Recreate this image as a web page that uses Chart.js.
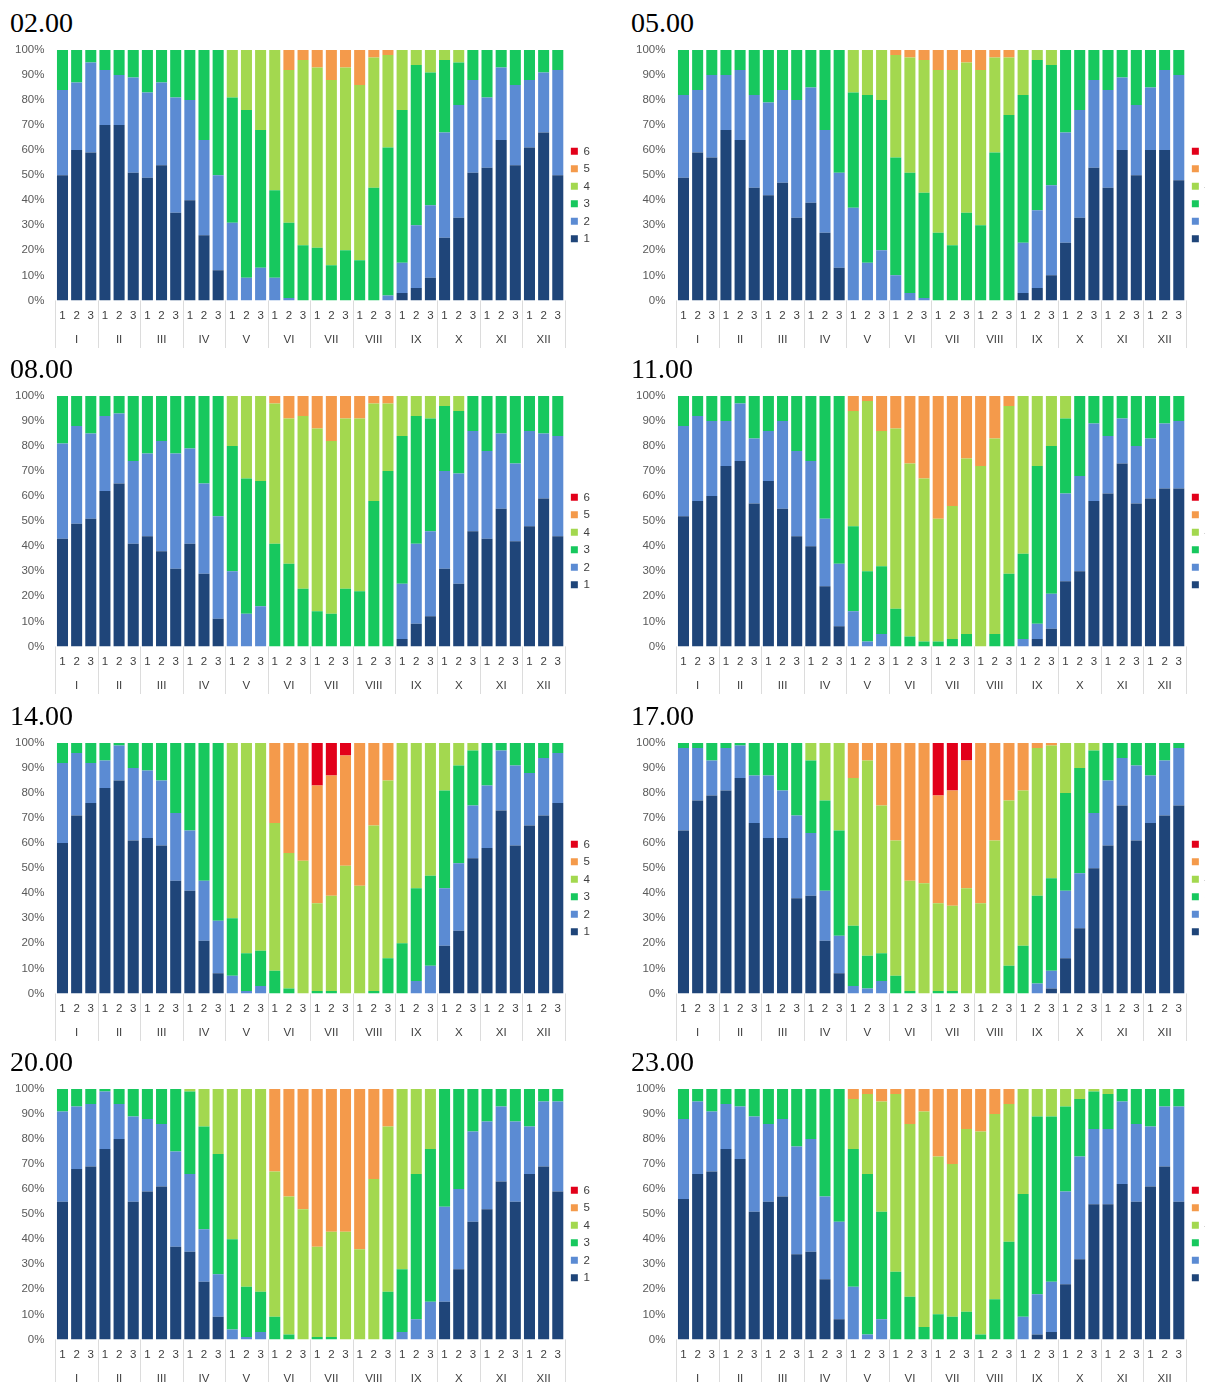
<!DOCTYPE html>
<html>
<head>
<meta charset="utf-8">
<script src="https://cdn.jsdelivr.net/npm/chart.js@4.4.1/dist/chart.umd.min.js"></script>
<style>
  html, body { margin: 0; padding: 0; background: #fff; }
  body { width: 1205px; height: 1382px; overflow: hidden; position: relative; }
  .panel { position: absolute; width: 600px; height: 347px; }
  .panel h2 {
    position: absolute; left: 10px; top: 9px; margin: 0;
    font: normal 28px/28px "Liberation Serif", "Times New Roman", serif; color: #000;
  }
  .frame { position: absolute; left: 0; top: 32px; width: 600px; height: 316px; }
</style>
</head>
<body>
<div id="panels"></div>
<script>
Chart.defaults.font.family = '"Liberation Sans", Arial, sans-serif';
Chart.defaults.font.size = 11.5;
Chart.defaults.color = "#404040";

const months = ["I", "II", "III", "IV", "V", "VI", "VII", "VIII", "IX", "X", "XI", "XII"];
const decades = ["1", "2", "3"];
const classes = ["1", "2", "3", "4", "5", "6"];
const classColors = ["#1f4579", "#5b8bd3", "#17c85e", "#a3d84f", "#f49a4b", "#e2001a"];
const yTicks = [0, 10, 20, 30, 40, 50, 60, 70, 80, 90, 100];

// cumulative tops of classes 1..5 for each decade; missing tops = 100%
const h02 = [
  [50, 84], [60, 87], [59, 95],
  [70, 92], [70, 90], [51, 89],
  [49, 83], [54, 87], [35, 81],
  [40, 80], [26, 64], [12, 50],
  [0, 31, 81], [0, 9, 76], [0, 13, 68],
  [0, 9, 44], [0, 1, 31, 92], [0, 0, 22, 96],
  [0, 0, 21, 93], [0, 0, 14, 88], [0, 0, 20, 93],
  [0, 0, 16, 86], [0, 0, 45, 97], [0, 2, 61, 98],
  [3, 15, 76], [5, 30, 94], [9, 38, 91],
  [25, 67, 96], [33, 78, 95], [51, 88],
  [53, 81], [64, 93], [54, 86],
  [61, 88], [67, 91], [50, 92]
];
const h05 = [
  [49, 82], [59, 84], [57, 90],
  [68, 90], [64, 92], [45, 82],
  [42, 79], [47, 84], [33, 80],
  [39, 85], [27, 68], [13, 51],
  [0, 37, 83], [0, 15, 82], [0, 20, 80],
  [0, 10, 57, 98], [0, 3, 51, 97], [0, 1, 43, 96],
  [0, 0, 27, 92], [0, 0, 22, 92], [0, 0, 35, 95],
  [0, 0, 30, 92], [0, 0, 59, 97], [0, 0, 74, 97],
  [3, 23, 82], [5, 36, 96], [10, 46, 94],
  [23, 67], [33, 76], [53, 88],
  [45, 84], [60, 89], [50, 78],
  [60, 85], [60, 92], [48, 90]
];
const h08 = [
  [43, 81], [49, 88], [51, 85],
  [62, 92], [65, 93], [41, 74],
  [44, 77], [38, 82], [31, 77],
  [41, 79], [29, 65], [11, 52],
  [0, 30, 80], [0, 13, 67], [0, 16, 66],
  [0, 0, 41, 97], [0, 0, 33, 91], [0, 0, 23, 92],
  [0, 0, 14, 87], [0, 0, 13, 82], [0, 0, 23, 91],
  [0, 0, 22, 91], [0, 0, 58, 97], [0, 0, 70, 97],
  [3, 25, 84], [9, 41, 92], [12, 46, 91],
  [31, 70, 96], [25, 69, 94], [46, 86],
  [43, 78], [55, 85], [42, 73],
  [48, 86], [59, 85], [44, 84]
];
const h11 = [
  [52, 88], [58, 92], [60, 90],
  [72, 90], [74, 97], [57, 83],
  [66, 86], [55, 90], [44, 78],
  [40, 74], [24, 51], [8, 33],
  [0, 14, 48, 94], [0, 2, 30, 98], [0, 5, 32, 86],
  [0, 0, 15, 87], [0, 0, 4, 73], [0, 0, 2, 67],
  [0, 0, 2, 51], [0, 0, 3, 56], [0, 0, 5, 75],
  [0, 0, 0, 72], [0, 0, 5, 83], [0, 0, 29, 96],
  [0, 3, 37], [3, 9, 72], [7, 21, 80],
  [26, 61, 91], [30, 68], [58, 89],
  [61, 84], [73, 91], [57, 80],
  [59, 83], [63, 89], [63, 90]
];
const h14 = [
  [60, 92], [71, 96], [76, 92],
  [82, 93], [85, 99], [61, 90],
  [62, 89], [59, 85], [45, 72],
  [41, 65], [21, 45], [8, 29],
  [0, 7, 30], [0, 1, 16], [0, 3, 17],
  [0, 0, 9, 68], [0, 0, 2, 56], [0, 0, 0, 53],
  [0, 0, 1, 36, 83], [0, 0, 1, 39, 87], [0, 0, 0, 51, 95],
  [0, 0, 0, 43], [0, 0, 1, 67], [0, 0, 14, 85],
  [0, 0, 20], [0, 5, 42], [0, 11, 47],
  [19, 42, 81], [25, 52, 91], [54, 75, 97],
  [58, 83], [73, 97], [59, 91],
  [67, 88], [71, 94], [76, 96]
];
const h17 = [
  [65, 98], [77, 98], [79, 93],
  [81, 98], [86, 99], [68, 87],
  [62, 87], [62, 81], [38, 71],
  [39, 64, 93], [21, 41, 77], [8, 23, 65],
  [0, 3, 27, 86], [0, 2, 15, 93], [0, 5, 16, 75],
  [0, 0, 7, 61], [0, 0, 1, 45], [0, 0, 0, 44],
  [0, 0, 1, 36, 79], [0, 0, 1, 35, 81], [0, 0, 0, 42, 93],
  [0, 0, 0, 36], [0, 0, 0, 61], [0, 0, 11, 77],
  [0, 0, 19, 81], [0, 4, 39, 98], [2, 9, 46, 99],
  [14, 41, 80], [26, 48, 90], [50, 72, 97],
  [59, 85], [75, 94], [61, 91],
  [68, 87], [71, 93], [75, 98]
];
const h20 = [
  [55, 91], [68, 93], [69, 94],
  [76, 99], [80, 94], [55, 89],
  [59, 88], [61, 86], [37, 75],
  [35, 66, 99], [23, 44, 85], [9, 26, 74],
  [0, 4, 40], [0, 1, 21], [0, 3, 19],
  [0, 0, 9, 67], [0, 0, 2, 57], [0, 0, 0, 52],
  [0, 0, 1, 37], [0, 0, 1, 43], [0, 0, 0, 43],
  [0, 0, 0, 36], [0, 0, 0, 64], [0, 0, 19, 85],
  [0, 3, 28], [0, 8, 66], [0, 15, 76],
  [15, 53], [28, 60], [47, 83],
  [52, 87], [63, 93], [55, 87],
  [66, 85], [69, 95], [59, 95]
];
const h23 = [
  [56, 88], [66, 95], [67, 91],
  [76, 94], [72, 93], [51, 89],
  [55, 86], [57, 88], [34, 77],
  [35, 80], [24, 57], [8, 47],
  [0, 21, 76, 96], [0, 2, 66, 98], [0, 8, 51, 95],
  [0, 0, 27, 98], [0, 0, 17, 86], [0, 0, 5, 91],
  [0, 0, 10, 73], [0, 0, 9, 70], [0, 0, 11, 84],
  [0, 0, 2, 83], [0, 0, 16, 90], [0, 0, 39, 94],
  [0, 9, 58], [2, 18, 89], [3, 23, 89],
  [22, 59, 93], [32, 73, 96], [54, 84, 99],
  [54, 84, 98], [62, 95], [55, 86],
  [61, 85], [69, 93], [55, 93]
];

const panels = [
  { title: "02.00", rows: h02 }, { title: "05.00", rows: h05 },
  { title: "08.00", rows: h08 }, { title: "11.00", rows: h11 },
  { title: "14.00", rows: h14 }, { title: "17.00", rows: h17 },
  { title: "20.00", rows: h20 }, { title: "23.00", rows: h23 }
];

const xLabels = months.flatMap(() => decades);

function shares(rows, k) {
  return rows.map((row) => {
    const top = k < row.length ? row[k] : 100;
    const bottom = k === 0 ? 0 : (k - 1 < row.length ? row[k - 1] : 100);
    return top - bottom;
  });
}

// light separators between the month groups, under the plot
const groupLines = {
  id: "groupLines",
  afterDraw(chart) {
    const x = chart.scales.x;
    const area = chart.chartArea;
    const half = (x.getPixelForValue(1) - x.getPixelForValue(0)) / 2;
    const ctx = chart.ctx;
    ctx.save();
    ctx.strokeStyle = "#dcdcdc";
    ctx.lineWidth = 1;
    for (let m = 0; m <= months.length; m += 1) {
      const px = Math.round(x.getPixelForValue(Math.min(m * 3, xLabels.length - 1)) + (m * 3 >= xLabels.length ? half : -half)) + 0.5;
      ctx.beginPath();
      ctx.moveTo(px, area.bottom);
      ctx.lineTo(px, area.bottom + 48);
      ctx.stroke();
    }
    ctx.restore();
  }
};

function makePanel(panel, index) {
  const col = index % 2;
  const row = Math.floor(index / 2);
  const box = document.createElement("div");
  box.className = "panel";
  box.style.left = `${col * 621}px`;
  box.style.top = `${row * 346.3}px`;
  box.innerHTML = `<h2>${panel.title}</h2><div class="frame"><canvas></canvas></div>`;
  document.getElementById("panels").appendChild(box);

  new Chart(box.querySelector("canvas"), {
    type: "bar",
    data: {
      labels: xLabels,
      datasets: classes.map((name, k) => ({
        label: name,
        data: shares(panel.rows, k),
        backgroundColor: classColors[k],
        borderWidth: 0,
        categoryPercentage: 1,
        barPercentage: 0.78
      }))
    },
    options: {
      responsive: true,
      maintainAspectRatio: false,
      animation: false,
      layout: { padding: { left: 4, right: 0, top: 0, bottom: 0 } },
      plugins: {
        legend: {
          position: "right",
          reverse: true,
          title: { display: true, text: " ", font: { size: 1 }, padding: { top: 9, bottom: 0 } },
          labels: { boxWidth: 7, boxHeight: 7, padding: 6, color: "#404040", font: { size: 11.5 } }
        },
        tooltip: { enabled: false }
      },
      scales: {
        x: {
          stacked: true,
          grid: { display: false, drawTicks: false },
          border: { display: false },
          ticks: { autoSkip: false, maxRotation: 0, padding: 9, color: "#404040" }
        },
        x2: {
          type: "category",
          labels: months,
          position: "bottom",
          offset: true,
          grid: { display: false, drawTicks: false },
          border: { display: false },
          ticks: { autoSkip: false, maxRotation: 0, padding: 1, color: "#404040" }
        },
        y: {
          stacked: true,
          min: 0,
          max: 100,
          afterBuildTicks(scale) {
            scale.ticks = yTicks.map((value) => ({ value }));
          },
          grid: { display: false, drawTicks: false },
          border: { display: false },
          ticks: { padding: 11, color: "#595959", callback: (value) => `${value}%` }
        }
      }
    },
    plugins: [groupLines]
  });
}

panels.forEach(makePanel);
</script>
</body>
</html>
